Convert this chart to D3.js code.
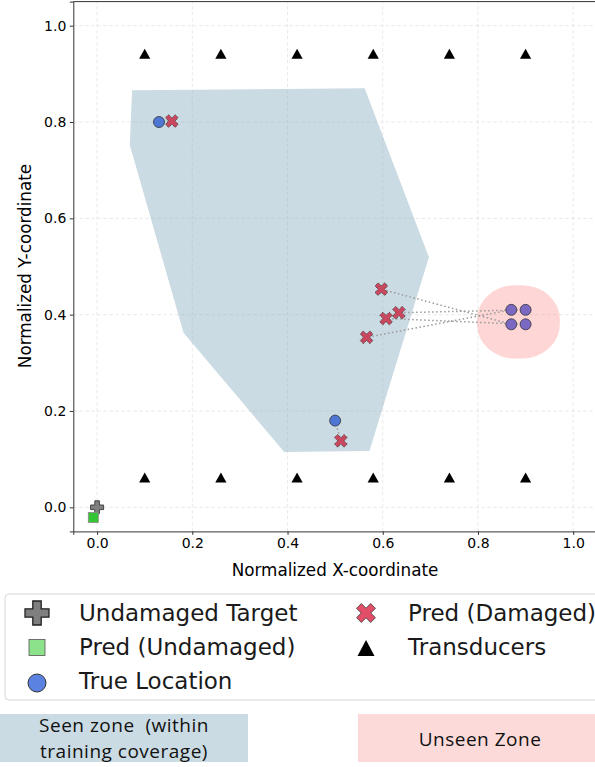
<!DOCTYPE html>
<html>
<head>
<meta charset="utf-8">
<script src="https://cdn.jsdelivr.net/npm/d3@7"></script>
<style>
  html, body { margin: 0; padding: 0; background: #fff; }
  svg { display: block; }
</style>
</head>
<body>
<svg id="chart" width="595" height="767"></svg>
<script>
// ---- data ----
const tickValues = [0.0, 0.2, 0.4, 0.6, 0.8, 1.0];
const transducerX = [0.1, 0.26, 0.42, 0.58, 0.74, 0.9];
const transducerY = [0.06, 0.94];

const undamagedTarget = [0.0, 0.0];
const undamagedPred = [-0.008, -0.021];

// damage cases inside the training coverage
const seenTrueX = [0.13, 0.50];
const seenTrueY = [0.80, 0.18];
const seenPredX = [0.157, 0.512];
const seenPredY = [0.802, 0.138];

// damage cases outside the training coverage
const unseenTrueX = [0.87, 0.90, 0.90, 0.87];
const unseenTrueY = [0.38, 0.41, 0.38, 0.41];
const unseenPredX = [0.597, 0.634, 0.607, 0.566];
const unseenPredY = [0.453, 0.404, 0.392, 0.353];

// outline of the training coverage region
const seenZoneX = [0.0735, 0.562, 0.697, 0.572, 0.393, 0.1815, 0.0687];
const seenZoneY = [0.866, 0.870, 0.519, 0.117, 0.115, 0.3626, 0.7524];

// unseen zone box (x0, x1, y0, y1)
const unseenZoneX = [0.798, 0.972];
const unseenZoneY = [0.309, 0.461];

const legendLeft = ["Undamaged Target", "Pred (Undamaged)", "True Location"];
const legendRight = ["Pred (Damaged)", "Transducers"];

// ---- drawing ----
const svg = d3.select("#chart");
const FONT = "DejaVu Sans, sans-serif";

const x = d3.scaleLinear().domain([-0.05, 1.05]).range([73.3, 597]);
const y = d3.scaleLinear().domain([-0.05, 1.05]).range([531.4, 1.6]);

const plot = svg.append("g");

// seen zone polygon
plot.append("path")
  .attr("d", d3.line()(seenZoneX.map((v, i) => [x(v), y(seenZoneY[i])])) + "Z")
  .attr("fill", "#cbdbe3");

// unseen zone
plot.append("rect")
  .attr("x", x(unseenZoneX[0]))
  .attr("y", y(unseenZoneY[1]))
  .attr("width", x(unseenZoneX[1]) - x(unseenZoneX[0]))
  .attr("height", y(unseenZoneY[0]) - y(unseenZoneY[1]))
  .attr("rx", 38).attr("ry", 34)
  .attr("fill", "#ffd6d6");

// grid
const grid = plot.append("g")
  .attr("stroke", "#b0b0b0").attr("stroke-opacity", 0.35)
  .attr("stroke-width", 0.8).attr("stroke-dasharray", "3.5,2.5");
tickValues.forEach(t => {
  grid.append("line").attr("x1", x(t)).attr("x2", x(t)).attr("y1", y(-0.05)).attr("y2", y(1.05));
  grid.append("line").attr("y1", y(t)).attr("y2", y(t)).attr("x1", x(-0.05)).attr("x2", x(1.05));
});

// axes
const fmt = d3.format(".1f");
const xAxis = plot.append("g")
  .attr("transform", `translate(0,${y(-0.05)})`)
  .call(d3.axisBottom(x).tickValues(tickValues).tickFormat(fmt).tickSize(3.5).tickPadding(3.5));
const yAxis = plot.append("g")
  .attr("transform", `translate(${x(-0.05)},0)`)
  .call(d3.axisLeft(y).tickValues(tickValues).tickFormat(fmt).tickSize(3.5).tickPadding(3.5));
[xAxis, yAxis].forEach(a => {
  a.selectAll("text").attr("font-family", FONT).attr("font-size", 14).attr("fill", "#000");
  a.selectAll("line").attr("stroke", "#333");
  a.select(".domain").attr("stroke", "#333").attr("stroke-width", 1);
});
// top spine
plot.append("line")
  .attr("x1", x(-0.05)).attr("x2", x(1.05)).attr("y1", y(1.05)).attr("y2", y(1.05))
  .attr("stroke", "#333").attr("stroke-width", 1);

// axis titles
svg.append("text")
  .attr("x", 335).attr("y", 576)
  .attr("text-anchor", "middle")
  .attr("font-family", FONT).attr("font-size", 16.8)
  .text("Normalized X-coordinate");
svg.append("text")
  .attr("transform", "translate(31,266) rotate(-90)")
  .attr("text-anchor", "middle")
  .attr("font-family", FONT).attr("font-size", 16.8)
  .text("Normalized Y-coordinate");

// connector lines from prediction to true location
const links = plot.append("g")
  .attr("stroke", "#999").attr("stroke-width", 1.5)
  .attr("stroke-dasharray", "1.5,2.5").attr("fill", "none");
seenTrueX.forEach((v, i) => {
  links.append("line")
    .attr("x1", x(v)).attr("y1", y(seenTrueY[i]))
    .attr("x2", x(seenPredX[i])).attr("y2", y(seenPredY[i]));
});
unseenTrueX.forEach((v, i) => {
  links.append("line")
    .attr("x1", x(v)).attr("y1", y(unseenTrueY[i]))
    .attr("x2", x(unseenPredX[i])).attr("y2", y(unseenPredY[i]));
});

// marker shapes
function crossPath(r, w) {
  const p = [[-w,-r],[w,-r],[w,-w],[r,-w],[r,w],[w,w],[w,r],[-w,r],[-w,w],[-r,w],[-r,-w],[-w,-w]];
  return "M" + p.map(q => q.join(",")).join("L") + "Z";
}
const plusD = crossPath(6.5, 2.3);
const xD = crossPath(6.8, 2.2);
const triD = "M0,-5.8L5.6,4.1L-5.6,4.1Z";

// transducers
const tri = plot.append("g");
transducerY.forEach(ty => transducerX.forEach(tx => {
  tri.append("path").attr("d", triD)
    .attr("transform", `translate(${x(tx)},${y(ty)})`)
    .attr("fill", "#000");
}));

// undamaged target and prediction
plot.append("path").attr("d", plusD)
  .attr("transform", `translate(${x(undamagedTarget[0])},${y(undamagedTarget[1])})`)
  .attr("fill", "#808080").attr("stroke", "#444").attr("stroke-width", 1);
plot.append("rect")
  .attr("x", x(undamagedPred[0]) - 5).attr("y", y(undamagedPred[1]) - 5)
  .attr("width", 10).attr("height", 10)
  .attr("fill", "#33c533").attr("stroke", "#8a8a8a").attr("stroke-width", 0.8);

// true locations
seenTrueX.forEach((v, i) => {
  plot.append("circle").attr("cx", x(v)).attr("cy", y(seenTrueY[i])).attr("r", 5.5)
    .attr("fill", "#4e77d5").attr("stroke", "#333").attr("stroke-width", 0.8);
});
unseenTrueX.forEach((v, i) => {
  plot.append("circle").attr("cx", x(v)).attr("cy", y(unseenTrueY[i])).attr("r", 5.5)
    .attr("fill", "#7a68c3").attr("stroke", "#333").attr("stroke-width", 0.8);
});

// damaged predictions
seenPredX.concat(unseenPredX).forEach((v, i) => {
  const yy = seenPredY.concat(unseenPredY)[i];
  plot.append("path").attr("d", xD)
    .attr("transform", `translate(${x(v)},${y(yy)}) rotate(45)`)
    .attr("fill", "#c9475f").attr("stroke", "#333").attr("stroke-width", 0.8)
    .attr("stroke-dasharray", "1.2,0.8");
});

// ---- legend ----
const leg = svg.append("g");
leg.append("rect")
  .attr("x", 5).attr("y", 594).attr("width", 620).attr("height", 106).attr("rx", 4)
  .attr("fill", "#fff").attr("stroke", "#d6d6d6").attr("stroke-width", 1);
const rowY = [613, 647, 681];
legendLeft.forEach((t, i) => {
  leg.append("text").attr("x", 79).attr("y", rowY[i] + 8)
    .attr("font-family", FONT).attr("font-size", 23).attr("fill", "#1a1a1a").text(t);
});
legendRight.forEach((t, i) => {
  leg.append("text").attr("x", 408).attr("y", rowY[i] + 8)
    .attr("font-family", FONT).attr("font-size", 23).attr("fill", "#1a1a1a").text(t);
});
leg.append("path").attr("d", crossPath(12, 4.2))
  .attr("transform", `translate(37,${rowY[0]})`)
  .attr("fill", "#7f7f7f").attr("stroke", "#222").attr("stroke-width", 1.3);
leg.append("rect").attr("x", 29).attr("y", rowY[1] - 7.5).attr("width", 16).attr("height", 16)
  .attr("fill", "#8be28b").attr("stroke", "#555").attr("stroke-width", 0.8);
leg.append("circle").attr("cx", 37).attr("cy", rowY[2] + 2).attr("r", 9)
  .attr("fill", "#5b82e0").attr("stroke", "#333").attr("stroke-width", 1);
leg.append("path").attr("d", crossPath(10, 3.4))
  .attr("transform", `translate(366,${rowY[0]}) rotate(45)`)
  .attr("fill", "#e24d67").attr("stroke", "#444").attr("stroke-width", 0.8);
leg.append("path").attr("d", "M0,-9L8.5,7L-8.5,7Z")
  .attr("transform", `translate(366,${rowY[1] + 2})`)
  .attr("fill", "#000");

// ---- zone captions ----
const BOXFONT = "Open Sans, Lato, sans-serif";
const capStyle = sel => sel
  .attr("font-family", BOXFONT).attr("font-size", 19).attr("letter-spacing", 0.5)
  .attr("fill", "#111").attr("text-anchor", "middle");
svg.append("rect").attr("x", 0).attr("y", 714).attr("width", 248).attr("height", 48).attr("fill", "#cbdbe3");
svg.append("text").attr("x", 124).attr("y", 731.5).call(capStyle)
  .attr("xml:space", "preserve").text("Seen zone  (within");
svg.append("text").attr("x", 124).attr("y", 757.5).call(capStyle)
  .text("training coverage)");
svg.append("rect").attr("x", 358).attr("y", 714).attr("width", 240).attr("height", 48).attr("fill", "#fddada");
svg.append("text").attr("x", 480).attr("y", 745.5).call(capStyle)
  .text("Unseen Zone");
</script>
</body>
</html>
